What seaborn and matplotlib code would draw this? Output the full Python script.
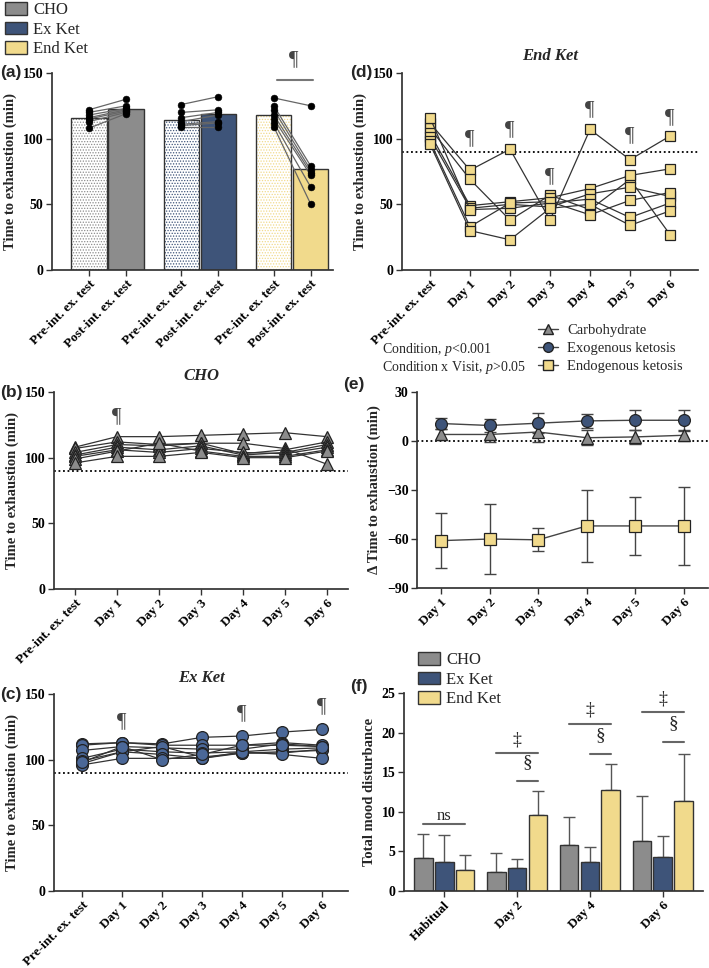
import numpy as np
import pandas as pd
import matplotlib
matplotlib.use("Agg")
import matplotlib.pyplot as plt
import seaborn as sns
from matplotlib.patches import Patch, Rectangle
from matplotlib.lines import Line2D

sns.set_theme(style="ticks")
plt.rcParams['font.family'] = ['Liberation Serif', 'DejaVu Serif']
plt.rcParams['mathtext.fontset'] = 'custom'
plt.rcParams['mathtext.rm'] = 'Liberation Serif'
plt.rcParams['mathtext.it'] = 'Liberation Serif:italic'
plt.rcParams['hatch.linewidth'] = 0.6
plt.rcParams['axes.edgecolor'] = '#333333'
plt.rcParams['xtick.color'] = '#333333'
plt.rcParams['ytick.color'] = '#333333'
plt.rcParams['xtick.labelcolor'] = 'black'
plt.rcParams['ytick.labelcolor'] = 'black'

# ---------------- colours ----------------
C_CHO = "#8c8c8c"
C_EX = "#3e5479"
C_EX_PT = "#4b6898"
C_END = "#f1da8c"

conditions = ["CHO", "Ex Ket", "End Ket"]

# ---------------- panel (a) data ----------------
a_labels = ["Pre-int. ex. test", "Post-int. ex. test"] * 3
a_bar_heights = [116, 122.5, 114, 119, 118, 77]
a_pre_cho = [122, 120, 118, 116, 115, 113, 108]
a_post_cho = [130, 125, 123, 122, 121, 120, 119]
a_pre_ex = [126, 120, 116, 113, 111, 110, 109]
a_post_ex = [132, 122, 120, 118, 113, 112, 109]
a_pre_end = [131, 125, 122, 118, 115, 112, 109]
a_post_end = [125, 79, 76, 74, 72, 63, 50]

# ---------------- time-course data ----------------
visits = ["Pre-int. ex. test", "Day 1", "Day 2", "Day 3", "Day 4", "Day 5", "Day 6"]
b_cho = [
    [108, 116, 116, 117, 118, 119, 116],
    [107, 112, 110, 111, 111, 107, 95],
    [104, 110, 109, 111, 103, 106, 112],
    [102, 108, 106, 109, 102, 104, 110],
    [101, 106, 104, 107, 104, 103, 108],
    [99, 105, 111, 105, 101, 101, 106],
    [96, 101, 101, 104, 100, 100, 105],
]
c_ex = [
    [112, 113, 112, 117, 118, 121, 123],
    [111, 113, 111, 111, 111, 113, 111],
    [107, 110, 109, 108, 108, 112, 110],
    [101, 108, 106, 105, 106, 108, 109],
    [99, 106, 110, 102, 105, 105, 108],
    [97, 106, 104, 101, 105, 106, 107],
    [96, 101, 101, 101, 106, 104, 101],
    [98, 110, 100, 104, 111, 111, 110],
]
d_end = [
    [112, 76, 92, 38, 107, 84, 102],
    [108, 69, 38, 57, 46, 69, 27],
    [104, 49, 52, 55, 62, 72, 77],
    [101, 47, 50, 48, 58, 63, 56],
    [116, 46, 47, 51, 54, 40, 51],
    [98, 33, 51, 52, 42, 53, 59],
    [96, 30, 23, 47, 50, 34, 45],
]
b_sig = {1: 131}
c_sig = {1: 129, 4: 135, 6: 140}
d_sig = {1: 100, 2: 107, 3: 71, 4: 122, 5: 102, 6: 116}

# ---------------- panel (e) data ----------------
e_days = ["Day 1", "Day 2", "Day 3", "Day 4", "Day 5", "Day 6"]
e_cho_mean = [4.0, 4.0, 5.5, 2.0, 2.5, 3.5]
e_cho_sd = [3.5, 4.5, 6.0, 4.5, 4.5, 3.5]
e_ex_mean = [10.7, 9.5, 10.9, 12.3, 12.7, 12.7]
e_ex_sd = [3.6, 4.2, 6.0, 4.5, 6.0, 6.5]
e_end_mean = [-61, -60, -60.5, -52, -52, -52]
e_end_sd = [17, 21.5, 7, 22, 18, 24]

# ---------------- panel (f) data ----------------
f_times = ["Habitual", "Day 2", "Day 4", "Day 6"]
f_cho = [4.2, 2.4, 5.8, 6.3]
f_cho_sd = [3.0, 2.4, 3.5, 5.7]
f_ex = [3.6, 2.9, 3.7, 4.3]
f_ex_sd = [3.5, 1.2, 1.8, 2.7]
f_end = [2.6, 9.6, 12.8, 11.4]
f_end_sd = [2.0, 3.0, 3.2, 5.9]

# =====================================================
W, H = 709, 968
fig = plt.figure(figsize=(W / 100, H / 100), dpi=100)


def ax_px(l, r, t, b):
    return fig.add_axes([l / W, 1 - b / H, (r - l) / W, (b - t) / H])


TICK_FS = 10
XT_FS = 9.5
YL_FS = 10.5


def style_ax(ax):
    sns.despine(ax=ax)
    ax.tick_params(axis='both', length=4, width=1, pad=2)
    for lab in ax.get_yticklabels():
        lab.set_fontweight('bold')
        lab.set_fontsize(TICK_FS)
    for lab in ax.get_xticklabels():
        lab.set_fontweight('bold')
        lab.set_fontsize(XT_FS)
        lab.set_rotation(45)
        lab.set_ha('right')
        lab.set_rotation_mode('anchor')


def panel_label(txt, x, y):
    fig.text(x / W, 1 - y / H, txt, fontsize=12.5, fontweight='bold',
             family=['Liberation Sans', 'DejaVu Sans'], va='center', ha='left')


def pilcrow(ax, x, y, fs=15):
    ax.text(x, y, "\u00b6", ha='center', va='center', fontsize=fs,
            color='#444444', clip_on=False)


pal = {"CHO": C_CHO, "Ex Ket": C_EX, "End Ket": C_END}

# ---------------- panel (a) ----------------
axa = ax_px(52, 333, 73, 270)
a_pos = [0, 1, 2.5, 3.5, 5, 6]
a_cond = ["CHO", "CHO", "Ex Ket", "Ex Ket", "End Ket", "End Ket"]
dfa = pd.DataFrame({"pos": a_pos, "h": a_bar_heights, "cond": a_cond})
sns.barplot(data=dfa, x="pos", y="h", hue="cond", palette=pal, native_scale=True,
            dodge=False, width=0.95, edgecolor="#333333", linewidth=1, saturation=1,
            legend=False, ax=axa, zorder=1)
for p in list(axa.patches):
    xc = p.get_x() + p.get_width() / 2
    if min(abs(xc - v) for v in (0, 2.5, 5)) < 0.01:
        col = p.get_facecolor()
        p.set_facecolor("white")
        p.set_edgecolor(col)
        p.set_hatch("......")
        p.set_linewidth(0)
        axa.add_patch(Rectangle((p.get_x(), 0), p.get_width(), p.get_height(),
                                fill=False, edgecolor="#333333", lw=1, zorder=2))

pairs = [(a_pre_cho, a_post_cho, 0), (a_pre_ex, a_post_ex, 2.5), (a_pre_end, a_post_end, 5)]
rows = []
for pre, post, x0 in pairs:
    for i, (u, v) in enumerate(zip(pre, post)):
        rows.append({"x": x0, "y": u, "s": f"{x0}-{i}"})
        rows.append({"x": x0 + 1, "y": v, "s": f"{x0}-{i}"})
dfp = pd.DataFrame(rows)
sns.lineplot(data=dfp, x="x", y="y", units="s", estimator=None, color="#666666",
             lw=0.9, ax=axa, zorder=3)
sns.scatterplot(data=dfp, x="x", y="y", color="black", s=24, edgecolor="black",
                ax=axa, zorder=4, legend=False)
axa.set_xlim(-1.0, 6.6)
axa.set_ylim(0, 150)
axa.set_yticks([0, 50, 100, 150])
axa.set_xticks(a_pos)
axa.set_xticklabels(a_labels)
axa.set_xlabel("")
axa.set_ylabel("Time to exhaustion (min)", fontsize=YL_FS, fontweight='bold')
style_ax(axa)
axa.plot([5.08, 6.05], [145, 145], color="#777777", lw=1.5, clip_on=False)
pilcrow(axa, 5.55, 160)
panel_label("(a)", 0, 73)

# top legend
hand = [Patch(facecolor=pal[c], edgecolor="#333333", lw=1) for c in conditions]
fig.legend(hand, conditions, loc="upper left", bbox_to_anchor=(5 / W, 1 - 2 / H),
           frameon=False, fontsize=12, handlelength=1.3, handleheight=0.8,
           labelspacing=0.2, handletextpad=0.4, borderpad=0, borderaxespad=0)


# ---------------- time-course panels ----------------
def course(ax, data, marker, face, ms, xlim, title, sig):
    rows = []
    for i, subj in enumerate(data):
        for j, v in enumerate(subj):
            rows.append({"x": j, "y": v, "s": i})
    df = pd.DataFrame(rows)
    ax.axhline(90, color="black", ls=(0, (1, 1.5)), lw=1.3, zorder=1)
    sns.lineplot(data=df, x="x", y="y", units="s", estimator=None, color="#333333",
                 lw=0.9, marker=marker, markersize=ms, markerfacecolor=face,
                 markeredgecolor="#222222", markeredgewidth=0.9, ax=ax, zorder=3)
    ax.set_xlim(*xlim)
    ax.set_ylim(0, 150)
    ax.set_yticks([0, 50, 100, 150])
    ax.set_xticks(range(len(visits)))
    ax.set_xticklabels(visits)
    ax.set_xlabel("")
    ax.set_ylabel("Time to exhaustion (min)", fontsize=YL_FS, fontweight='bold')
    ax.set_title(title, fontsize=12, fontweight='bold', style='italic', pad=9)
    style_ax(ax)
    for k, yv in sig.items():
        pilcrow(ax, k, yv)


axb = ax_px(54, 348, 392, 589)
course(axb, b_cho, "^", C_CHO, 8, (-0.5, 6.5), "CHO", b_sig)
panel_label("(b)", 0, 393)

axc = ax_px(54, 348, 694, 891)
course(axc, c_ex, "o", C_EX_PT, 8.5, (-0.7, 6.65), "Ex Ket", c_sig)
panel_label("(c)", 0, 695)

axd = ax_px(402, 698, 73, 270)
course(axd, d_end, "s", C_END, 7.5, (-0.7, 6.7), "End Ket", d_sig)
panel_label("(d)", 350, 73)

# ---------------- panel (e) ----------------
axe = ax_px(417, 708, 392, 588)
axe.axhline(0, color="black", ls=(0, (1, 1.5)), lw=1.3, zorder=1)
series = [("Carbohydrate", e_cho_mean, e_cho_sd, "^", C_CHO, 8),
          ("Exogenous ketosis", e_ex_mean, e_ex_sd, "o", C_EX, 8.5),
          ("Endogenous ketosis", e_end_mean, e_end_sd, "s", C_END, 8)]
for name, m, sd, mk, col, ms in series:
    xs = np.arange(len(e_days))
    axe.errorbar(xs, m, yerr=sd, fmt="none", ecolor="#444444", elinewidth=1,
                 capsize=4, capthick=1, zorder=2)
    dfe = pd.DataFrame({"x": xs, "y": m})
    sns.lineplot(data=dfe, x="x", y="y", color="#444444", lw=1, marker=mk,
                 markersize=ms, markerfacecolor=col, markeredgecolor="#222222",
                 markeredgewidth=0.9, ax=axe, zorder=3)
axe.set_xlim(-0.5, 5.5)
axe.set_ylim(-90, 30)
axe.set_yticks([-90, -60, -30, 0, 30])
axe.set_xticks(range(len(e_days)))
axe.set_xticklabels(e_days)
axe.set_xlabel("")
axe.set_ylabel("\u0394 Time to exhaustion (min)", fontsize=YL_FS, fontweight='bold')
style_ax(axe)
panel_label("(e)", 343, 385)

e_hand = [Line2D([], [], color="#444444", lw=1, marker=mk, markersize=ms - 1.5,
                 markerfacecolor=col, markeredgecolor="#222222")
          for _, _, _, mk, col, ms in series]
fig.legend(e_hand, [s[0] for s in series], loc="upper left",
           bbox_to_anchor=(538 / W, 1 - 324 / H), frameon=False, fontsize=10.5,
           handlelength=1.4, labelspacing=0.32, handletextpad=0.6, borderpad=0,
           borderaxespad=0)
fig.text(382 / W, 1 - 350 / H, "Condition, $p$<0.001", fontsize=10, va='center')
fig.text(382 / W, 1 - 367 / H, "Condition x Visit, $p$>0.05", fontsize=10, va='center')

# ---------------- panel (f) ----------------
axf = ax_px(404, 703, 693, 891)
dff = pd.DataFrame({
    "time": f_times * 3,
    "val": f_cho + f_ex + f_end,
    "sd": f_cho_sd + f_ex_sd + f_end_sd,
    "cond": ["CHO"] * 4 + ["Ex Ket"] * 4 + ["End Ket"] * 4,
})
sns.barplot(data=dff, x="time", y="val", hue="cond", hue_order=conditions,
            palette=pal, width=0.86, gap=0.1, edgecolor="#333333", linewidth=1,
            saturation=1, legend=False, ax=axf, zorder=2)
cents = []
for p in axf.patches[:12]:
    cents.append(p.get_x() + p.get_width() / 2)
axf.errorbar(cents, dff["val"], yerr=[np.zeros(12), dff["sd"]], fmt="none",
             ecolor="#555555", elinewidth=1, capsize=4, capthick=1, zorder=1)
axf.set_ylim(0, 25)
axf.set_xlim(-0.55, 3.55)
axf.set_yticks([0, 5, 10, 15, 20, 25])
axf.set_xlabel("")
axf.set_ylabel("Total mood disturbance", fontsize=YL_FS, fontweight='bold')
style_ax(axf)
off = 0.287
ln = dict(color="#666666", lw=1.5, clip_on=False)
axf.plot([0 - off, 0 + off], [8.4, 8.4], **ln)
axf.text(0, 9.5, "ns", ha='center', va='center', fontsize=12)
for g, yd, ys in [(1, 17.4, 13.9), (2, 21.1, 17.3), (3, 22.6, 18.8)]:
    axf.plot([g - off, g + off], [yd, yd], **ln)
    axf.text(g, yd + 1.7, "\u2021", ha='center', va='center', fontsize=13)
    axf.plot([g, g + off], [ys, ys], **ln)
    axf.text(g + off / 2, ys + 2.3, "\u00a7", ha='center', va='center', fontsize=14)
panel_label("(f)", 350, 686)
f_hand = [Patch(facecolor=pal[c], edgecolor="#333333", lw=1) for c in conditions]
fig.legend(f_hand, conditions, loc="upper left", bbox_to_anchor=(418 / W, 1 - 652 / H),
           frameon=False, fontsize=12, handlelength=1.3, handleheight=0.8,
           labelspacing=0.2, handletextpad=0.4, borderpad=0, borderaxespad=0)

fig.savefig("out.png", dpi=100)
